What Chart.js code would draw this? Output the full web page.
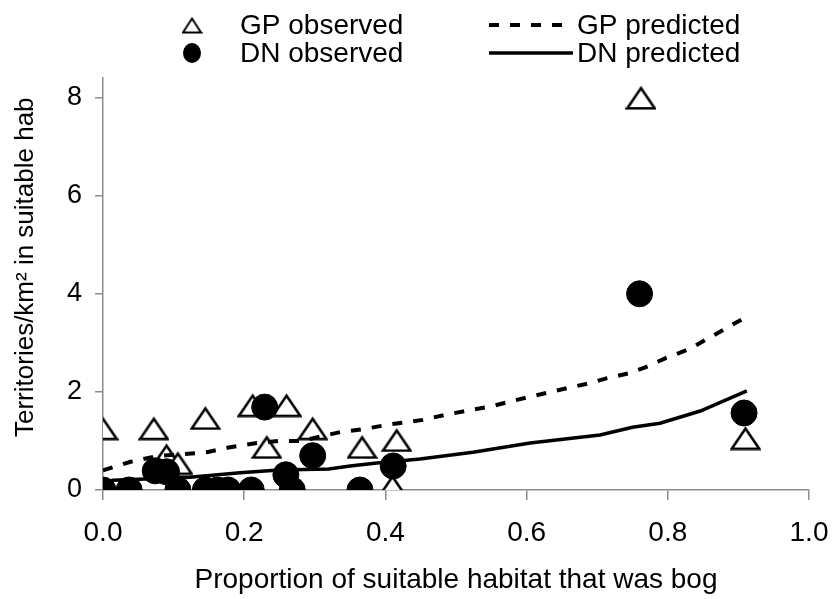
<!DOCTYPE html>
<html>
<head>
<meta charset="utf-8">
<script src="https://cdn.jsdelivr.net/npm/chart.js@4.4.1/dist/chart.umd.min.js"></script>
<style>
html, body { margin: 0; padding: 0; background: #fff; }
#wrap { width: 833px; height: 599px; }
</style>
</head>
<body>
<div id="wrap"><canvas id="bog"></canvas></div>
<script>
// observed sites
const gpObsX = [0.00, 0.072, 0.145, 0.212, 0.26, 0.09, 0.106, 0.232, 0.297, 0.367, 0.416, 0.41, 0.762, 0.91, 0.00, 0.037, 0.17, 0.27];
const gpObsY = [1.26, 1.26, 1.47, 1.73, 1.73, 0.71, 0.55, 0.88, 1.26, 0.88, 1.02, 0.08, 8.0, 1.06, 0, 0, 0, 0];
const dnObsX = [0.00, 0.037, 0.074, 0.09, 0.106, 0.145, 0.162, 0.177, 0.21, 0.229, 0.259, 0.268, 0.297, 0.364, 0.411, 0.76, 0.908];
const dnObsY = [0, 0, 0.39, 0.37, 0, 0, 0, 0, 0, 1.69, 0.31, 0, 0.70, 0, 0.49, 4.0, 1.57];

// model predictions
const gpPredX = [0.0, 0.038, 0.076, 0.147, 0.176, 0.218, 0.25, 0.28, 0.336, 0.368, 0.407, 0.453, 0.484, 0.52, 0.551, 0.584, 0.64, 0.69, 0.714, 0.745, 0.768, 0.797, 0.83, 0.861, 0.905];
const gpPredY = [0.40, 0.57, 0.69, 0.77, 0.86, 0.96, 1.0, 1.0, 1.18, 1.24, 1.34, 1.43, 1.53, 1.63, 1.71, 1.83, 2.02, 2.18, 2.28, 2.38, 2.50, 2.69, 2.87, 3.12, 3.48];
const dnPredX = [0.0, 0.014, 0.123, 0.194, 0.25, 0.32, 0.35, 0.388, 0.449, 0.524, 0.605, 0.704, 0.75, 0.789, 0.846, 0.912];
const dnPredY = [0.14, 0.20, 0.26, 0.35, 0.41, 0.43, 0.49, 0.55, 0.63, 0.77, 0.96, 1.12, 1.28, 1.36, 1.61, 2.02];

const seriesLabels = ['GP observed', 'GP predicted', 'DN observed', 'DN predicted'];
const xTitle = 'Proportion of suitable habitat that was bog';
const yTitle = 'Territories/km\u00B2 in suitable hab';

const pts = (xs, ys) => xs.map((x, i) => ({ x: x, y: ys[i] }));

Chart.defaults.font.family = '"Liberation Sans", Arial, sans-serif';
Chart.defaults.color = '#000';

// open triangle, centred on its box like the spreadsheet marker
function triangle(w, h, lw) {
    const c = document.createElement('canvas');
    c.width = w; c.height = h;
    const g = c.getContext('2d');
    g.beginPath();
    g.moveTo(w / 2, lw + 0.5);
    g.lineTo(w - lw / 2 - 0.5, h - lw / 2 - 0.5);
    g.lineTo(lw / 2 + 0.5, h - lw / 2 - 0.5);
    g.closePath();
    g.fillStyle = '#fff';
    g.fill();
    g.lineWidth = lw;
    g.strokeStyle = '#000';
    g.stroke();
    return c;
}
const triBig = triangle(31, 25, 2.5);
const triSmall = triangle(21, 18, 2);

const keyPlugin = {
    id: 'key',
    afterDraw(chart) {
        const ctx = chart.ctx;
        const rowsY = [25, 53];
        ctx.save();
        ctx.font = '28px "Liberation Sans", Arial, sans-serif';
        ctx.fillStyle = '#000';
        ctx.textBaseline = 'middle';
        chart.data.datasets.forEach((ds, i) => {
            const col = i % 2, y = rowsY[Math.floor(i / 2)];
            if (col === 0) {
                if (ds.pointStyle instanceof HTMLCanvasElement) {
                    ctx.drawImage(triSmall, 192 - triSmall.width / 2, y - triSmall.height / 2);
                } else {
                    ctx.beginPath();
                    ctx.ellipse(192, y, 9, 10, 0, 0, Math.PI * 2);
                    ctx.fill();
                }
                ctx.fillText(ds.label, 240, y + 1);
            } else {
                ctx.beginPath();
                ctx.setLineDash(ds.borderDash || []);
                ctx.lineWidth = ds.borderWidth;
                ctx.strokeStyle = '#000';
                ctx.moveTo(489, y);
                ctx.lineTo(573, y);
                ctx.stroke();
                ctx.setLineDash([]);
                ctx.fillText(ds.label, 577, y + 1);
            }
        });
        // y axis title
        const area = chart.chartArea;
        ctx.font = '26px "Liberation Sans", Arial, sans-serif';
        ctx.translate(26, area.bottom - 53);
        ctx.rotate(-Math.PI / 2);
        ctx.textAlign = 'left';
        ctx.fillText(yTitle, 0, 0);
        ctx.restore();
    }
};

new Chart(document.getElementById('bog'), {
    type: 'scatter',
    data: {
        datasets: [
            {
                label: seriesLabels[0],
                data: pts(gpObsX, gpObsY),
                pointStyle: triBig,
                order: 3
            },
            {
                label: seriesLabels[1],
                data: pts(gpPredX, gpPredY),
                showLine: true,
                borderColor: '#000',
                borderWidth: 4,
                borderDash: [10, 11],
                pointRadius: 0,
                order: 0
            },
            {
                label: seriesLabels[2],
                data: pts(dnObsX, dnObsY),
                pointStyle: 'circle',
                pointRadius: 13,
                backgroundColor: '#000',
                borderColor: '#000',
                order: 2
            },
            {
                label: seriesLabels[3],
                data: pts(dnPredX, dnPredY),
                showLine: true,
                borderColor: '#000',
                borderWidth: 3.5,
                pointRadius: 0,
                order: 1
            }
        ]
    },
    options: {
        responsive: true,
        maintainAspectRatio: false,
        animation: false,
        layout: { padding: { top: 78, right: 24, left: 0, bottom: 0 } },
        plugins: {
            legend: { display: false },
            tooltip: { enabled: false }
        },
        scales: {
            x: {
                type: 'linear',
                min: 0,
                max: 1,
                afterFit: (s) => { s.height = 109; s.paddingLeft = 0; s.paddingRight = 0; },
                border: { color: '#8c8c8c', width: 1.5 },
                grid: { drawOnChartArea: false, color: '#8c8c8c', tickLength: 10, lineWidth: 1.5 },
                ticks: {
                    stepSize: 0.2,
                    padding: 16,
                    font: { size: 28 },
                    callback: (v) => v.toFixed(1)
                },
                title: {
                    display: true,
                    text: xTitle,
                    font: { size: 28 },
                    padding: { top: 0, bottom: 2 }
                }
            },
            y: {
                min: 0,
                max: 8.4,
                afterFit: (s) => { s.width = 103; s.paddingTop = 0; s.paddingBottom = 0; },
                border: { color: '#8c8c8c', width: 1.5 },
                grid: { drawOnChartArea: false, color: '#8c8c8c', tickLength: 8, lineWidth: 1.5 },
                ticks: {
                    stepSize: 2,
                    includeBounds: false,
                    padding: 13,
                    font: { size: 27 }
                }
            }
        }
    },
    plugins: [keyPlugin]
});
</script>
</body>
</html>
